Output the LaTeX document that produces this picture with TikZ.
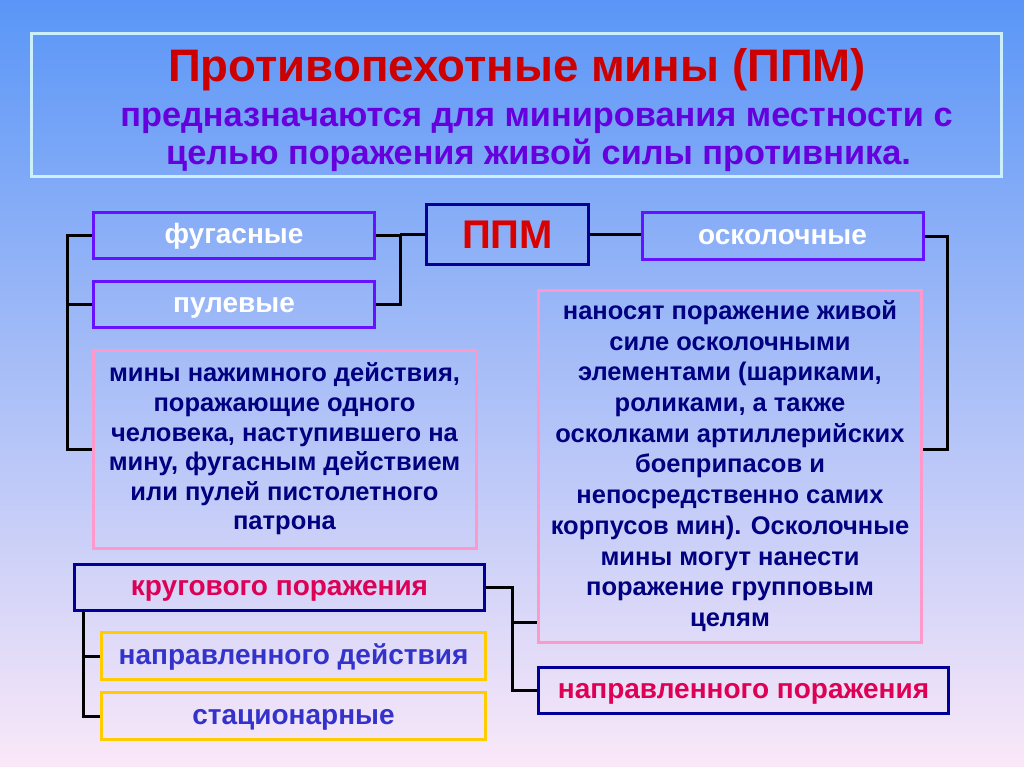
\documentclass[tikz,border=0pt]{standalone}
\usepackage{fontspec}
\setmainfont{Liberation Sans}
\usepackage{tikz}

\definecolor{bgtop}{RGB}{90,150,247}
\definecolor{bgmid}{RGB}{155,196,243}
\definecolor{bgbot}{RGB}{250,232,248}
\definecolor{titlered}{RGB}{204,0,0}
\definecolor{subviolet}{RGB}{102,0,221}
\definecolor{boxviolet}{RGB}{102,17,255}
\definecolor{boxnavy}{RGB}{0,0,153}
\definecolor{boxpink}{RGB}{255,153,204}
\definecolor{boxgold}{RGB}{255,204,0}
\definecolor{textnavy}{RGB}{0,0,128}
\definecolor{textcrimson}{RGB}{221,0,85}
\definecolor{textblue}{RGB}{51,51,204}

\tikzset{
  box/.style={draw,line width=3pt,minimum width=#1,inner sep=0pt,font=\bfseries\fontsize{28}{32}\selectfont},
  label/.style={text height=16pt,text depth=0pt},
  kind/.style={box=281pt,label,minimum height=46pt,draw=boxviolet,text=white},
  note/.style={box=383pt,draw=boxpink,text=textnavy,align=center},
  lower/.style={box=384pt,label,minimum height=47pt,draw=boxgold,text=textblue},
  group/.style={box=410pt,label,minimum height=46pt,draw=boxnavy,text=textcrimson},
  link/.style={line width=3pt}
}

\begin{document}
\begin{tikzpicture}[x=1pt,y=-1pt]
  \shade[top color=bgtop,middle color=bgmid,bottom color=bgbot] (0,0) rectangle (1024,767);
  \useasboundingbox (0,0) rectangle (1024,767);

  % title
  \node[draw=cyan!20,line width=3pt,minimum width=970pt,minimum height=143pt] (head) at (516.5,105) {};
  \node[anchor=base,text=titlered,font=\bfseries\fontsize{45.6}{50}\selectfont] (title) at (517,82) {Противопехотные мины (ППМ)};
  \node[anchor=base,text=subviolet,font=\bfseries\fontsize{34.3}{38}\selectfont] (sub1) at (536.5,127) {предназначаются для минирования местности с};
  \node[anchor=base,text=subviolet,font=\bfseries\fontsize{34.3}{38}\selectfont] (sub2) at (538.5,165) {целью поражения живой силы противника.};

  % upper part
  \node[box=162pt,minimum height=60pt,draw=boxnavy,text=red!85!black,font=\bfseries\fontsize{40}{44}\selectfont] (ppm) at (507.5,234.5) {ППМ};
  \node[kind] (fug) at (234,235.5) {фугасные};
  \node[kind] (pul) at (234,304.5) {пулевые};
  \node[kind] (osk) at (782.5,236) {осколочные};
  \node[note,minimum height=198pt,font=\bfseries\fontsize{25.5}{29.6}\selectfont] (nazh) at (284.5,449)
    {мины нажимного действия,\\поражающие одного\\человека, наступившего на\\мину, фугасным действием\\или пулей пистолетного\\патрона};
  \node[note,minimum height=352pt,font=\bfseries\fontsize{25.5}{30.7}\selectfont] (oskt) at (730,466)
    {наносят поражение живой\\силе осколочными\\элементами (шариками,\\роликами, а также\\осколками артиллерийских\\боеприпасов и\\непосредственно самих\\корпусов мин). Осколочные\\мины могут нанести\\поражение групповым\\целям};

  % lower part
  \node[group] (krug) at (279.5,587.5) {кругового поражения};
  \node[lower] (napd) at (293.5,656) {направленного действия};
  \node[lower] (stac) at (293.5,716) {стационарные};
  \node[group] (napp) at (743.5,690.5) {направленного поражения};

  \draw[link] (fug.east) -- ++(24,0) |- (pul.east);
  \draw[link] (ppm.west) -- ++(-25,0);
  \draw[link] (ppm.east) -- (ppm.east -| osk.west);
  \draw[link] (fug.west) -- ++(-25,0) |- (nazh.west);
  \draw[link] (pul.west) -- ++(-25,0);
  \draw[link] (osk.east) -- ++(23,0) |- (nazh.west -| oskt.east);
  \draw[link] ([xshift=10pt]krug.south west) |- (stac.west);
  \draw[link] (napd.west) -- ++(-17,0);
  \draw[link] (krug.east) -- ++(26,0) |- (napp.west);
  \coordinate (kj) at (512,622);
  \draw[link] (kj) -- (kj -| oskt.west);
\end{tikzpicture}
\end{document}
